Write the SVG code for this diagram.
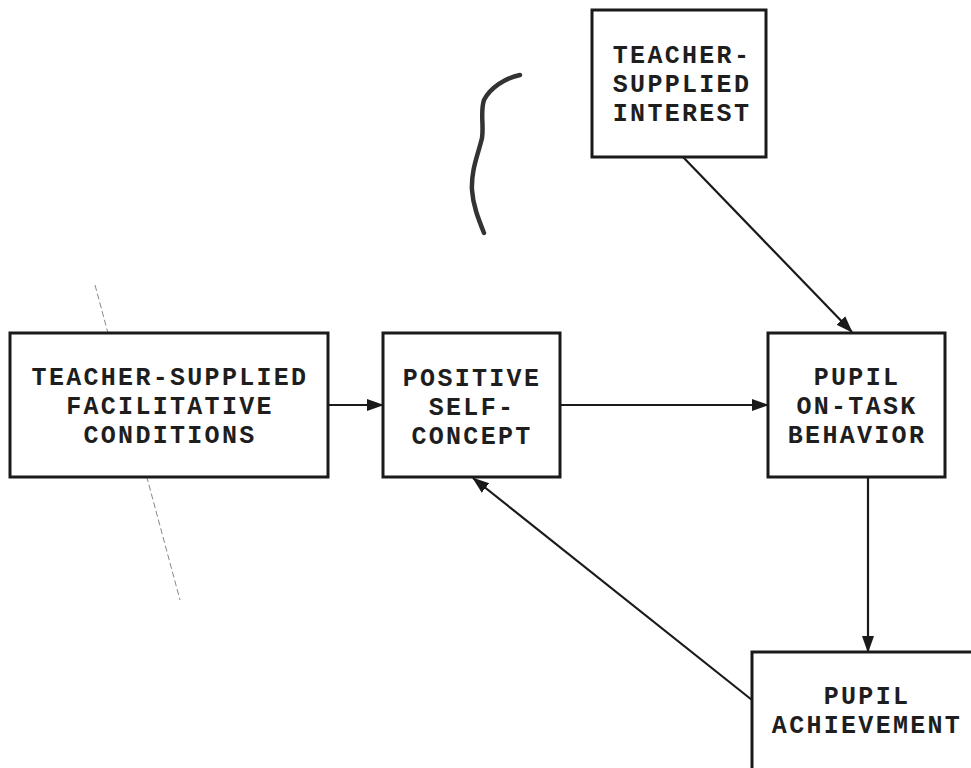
<svg xmlns="http://www.w3.org/2000/svg" width="971" height="768" viewBox="0 0 971 768">
<defs>
<style>
.box{fill:#fff;stroke:#1a1a1a;stroke-width:3}
.t{font-family:"Liberation Mono","Courier New",monospace;font-size:25px;letter-spacing:2.3px;font-weight:bold;fill:#1e1e1e;text-anchor:middle}
.c{stroke:#1a1a1a;stroke-width:2.2;fill:none;marker-end:url(#ah)}
</style>
<marker id="ah" markerUnits="userSpaceOnUse" markerWidth="18" markerHeight="14" refX="16" refY="7" orient="auto">
<path d="M0,1 L17,7 L0,13 Z" fill="#1a1a1a"/>
</marker>
</defs>
<rect width="971" height="768" fill="#fff"/>
<g id="marks" fill="none" stroke="#333">
<path d="M520,75 C505,78 490,88 484,100 C480,112 484,125 482,138 C478,155 471,170 472,190 C473,205 478,218 484,233" stroke-width="4.5" stroke-linecap="round"/>
<path d="M95,285 L180,600" stroke-width="1" stroke="#888" stroke-dasharray="6 3"/>
</g>
<g id="connectors">
<line class="c" x1="328" y1="405" x2="383" y2="405"/>
<line class="c" x1="560" y1="405" x2="768" y2="405"/>
<line class="c" x1="683" y1="157" x2="852" y2="332"/>
<line class="c" x1="868" y1="477" x2="868" y2="652"/>
<line class="c" x1="752" y1="700" x2="473" y2="478"/>
</g>
<g id="n_interest">
<rect class="box" x="592" y="10" width="174" height="147"/>
<text class="t" x="682" y="63">TEACHER-</text>
<text class="t" x="682" y="92">SUPPLIED</text>
<text class="t" x="682" y="121">INTEREST</text>
</g>
<g id="n_conditions">
<rect class="box" x="10" y="333" width="318" height="144"/>
<text class="t" x="170" y="385">TEACHER-SUPPLIED</text>
<text class="t" x="170" y="414">FACILITATIVE</text>
<text class="t" x="170" y="443">CONDITIONS</text>
</g>
<g id="n_selfconcept">
<rect class="box" x="383" y="333" width="177" height="144"/>
<text class="t" x="472" y="386">POSITIVE</text>
<text class="t" x="472" y="415">SELF-</text>
<text class="t" x="472" y="444">CONCEPT</text>
</g>
<g id="n_ontask">
<rect class="box" x="768" y="333" width="177" height="144"/>
<text class="t" x="857" y="385">PUPIL</text>
<text class="t" x="857" y="414">ON-TASK</text>
<text class="t" x="857" y="443">BEHAVIOR</text>
</g>
<g id="n_achievement">
<rect class="box" x="752" y="652" width="240" height="140"/>
<text class="t" x="867" y="704">PUPIL</text>
<text class="t" x="867" y="733">ACHIEVEMENT</text>
</g>
</svg>
